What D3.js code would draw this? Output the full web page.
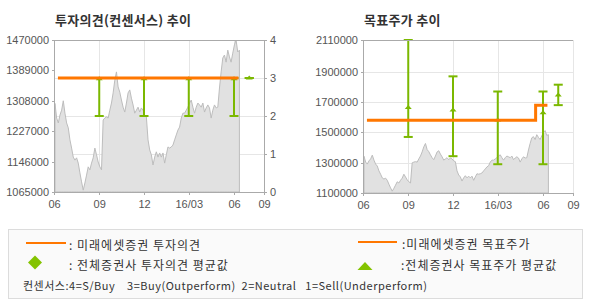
<!DOCTYPE html>
<html>
<head>
<meta charset="utf-8">
<script src="https://cdn.jsdelivr.net/npm/d3@7"></script>
<style>
  body { margin: 0; background: #fff; }
  svg { display: block; }
  .tick text { font-family: "Liberation Sans", Arial, sans-serif; font-size: 11px; fill: #555; }
  .axis path, .axis line { stroke: #aaa; shape-rendering: crispEdges; }
  .grid line { stroke: #e6e6e6; shape-rendering: crispEdges; }
  .grid path { display: none; }
  .kr { font-family: "Noto Sans CJK KR", sans-serif; fill: #333; }
</style>
</head>
<body>
<div id="chart"></div>
<script>
// price series (roughly every 3-4 days, 2015-06-03 .. 2016-06-12)
const priceStart = "2015-06-03"
const priceEnd = "2016-06-12"
const prices = [
  1301000,1262000,1249000,1270000,1283000,1308000,1275000,1249000,1236000,1204000,
  1182000,1158000,1150000,1156000,1142000,1116000,1092000,1070000,1089000,1110000,
  1132000,1124000,1142000,1156000,1182000,1164000,1145000,1132000,1124000,1257000,
  1262000,1265000,1262000,1283000,1302000,1329000,1363000,1385000,1345000,
  1331000,1310000,1291000,1278000,1302000,1329000,1337000,1315000,1297000,1275000,
  1283000,1291000,1278000,1289000,1283000,1270000,1265000,1204000,1177000,1164000,
  1137000,1158000,1172000,1158000,1169000,1158000,1169000,1142000,1164000,1185000,
  1182000,1185000,1190000,1204000,1217000,1230000,1238000,1262000,1275000,
  1275000,1283000,1291000,1302000,1310000,1291000,1275000,1291000,1302000,1297000,
  1291000,1302000,1278000,1289000,1297000,1289000,1262000,1283000,1297000,1289000,
  1291000,1342000,1385000,1422000,1430000,1411000,1443000,1425000,1411000,1435000,
  1457000,1470000,1438000,1443000
]

// 미래에셋증권 investment opinion and target price (step lines)
const opinionDates = ["2015-06-09", "2016-06-10"]
const opinionValues = [3, 3]
const targetDates = ["2015-06-09", "2016-05-17", "2016-06-10"]
const targetValues = [1580000, 1680000, 1680000]

// consensus (all brokers): range and average
const consDates = ["2015-09-01", "2015-12-01", "2016-03-01", "2016-06-01", "2016-07-02"]
const opinionHigh = [3, 3, 3, 3, 3]
const opinionLow = [2, 2, 2, 2, 3]
const opinionMean = [2.98, 2.98, 2.98, 2.98, 3]
const targetHigh = [2110000, 1870000, 1770000, 1770000, 1815000]
const targetLow = [1470000, 1343000, 1290000, 1290000, 1680000]
const targetMean = [1665000, 1648000, 1582000, 1630000, 1747000]

// axes
const xTickDates = ["2015-06-01", "2015-09-01", "2015-12-01", "2016-03-01", "2016-06-01", "2016-08-01"]
const xTickLabels = ["06", "09", "12", "16/03", "06", "09"]
const priceTicks = [1065000, 1146000, 1227000, 1308000, 1389000, 1470000]
const opinionTicks = [0, 1, 2, 3, 4]
const targetTicks = [1100000, 1300000, 1500000, 1700000, 1900000, 2110000]

const parse = d3.timeParse("%Y-%m-%d")
const orange = "#ff7700"
const green = "#7bb800"

const svg = d3.select("#chart").append("svg")
  .attr("width", 590)
  .attr("height", 300)

const idxToDate = d3.scaleLinear()
  .domain([0, prices.length - 1])
  .range([parse(priceStart), parse(priceEnd)])
const priceData = prices.map((p, i) => ({date: new Date(idxToDate(i)), value: p}))

function drawChart(opts) {
  const {left, right, top, bottom} = opts
  const g = svg.append("g")

  const x = d3.scaleTime()
    .domain([parse(xTickDates[0]), parse(xTickDates[xTickDates.length - 1])])
    .range([left, right])
  const tickDates = xTickDates.map(parse)

  // vertical grid
  g.append("g").attr("class", "grid")
    .attr("transform", `translate(0,${bottom})`)
    .call(d3.axisBottom(x).tickValues(tickDates).tickSize(-(bottom - top)).tickFormat(""))

  // horizontal grid
  g.append("g").attr("class", "grid")
    .attr("transform", `translate(${left},0)`)
    .call(d3.axisLeft(opts.gridScale).tickValues(opts.gridTicks).tickSize(-(right - left)).tickFormat(""))

  // price area
  const area = d3.area()
    .x(d => x(d.date))
    .y0(bottom)
    .y1(d => opts.priceScale(d.value))
  g.append("path")
    .datum(priceData)
    .attr("d", area)
    .attr("fill", "#e1e1e1")
    .attr("stroke", "#bdbdbd")
    .attr("stroke-width", 1)

  // consensus range bars
  const bars = g.append("g").selectAll("g")
    .data(consDates.map((d, i) => ({date: parse(d), hi: opts.high[i], lo: opts.low[i], mean: opts.mean[i]})))
    .join("g")
  bars.append("line")
    .attr("x1", d => x(d.date)).attr("x2", d => x(d.date))
    .attr("y1", d => opts.barScale(d.hi)).attr("y2", d => opts.barScale(d.lo))
    .attr("stroke", green).attr("stroke-width", 2)
  bars.append("line")
    .attr("x1", d => x(d.date) - 4.5).attr("x2", d => x(d.date) + 4.5)
    .attr("y1", d => opts.barScale(d.hi)).attr("y2", d => opts.barScale(d.hi))
    .attr("stroke", green).attr("stroke-width", 2)
  bars.append("line")
    .attr("x1", d => x(d.date) - 4.5).attr("x2", d => x(d.date) + 4.5)
    .attr("y1", d => opts.barScale(d.lo)).attr("y2", d => opts.barScale(d.lo))
    .attr("stroke", green).attr("stroke-width", 2)
  bars.append("path")
    .attr("d", d => {
      const cx = x(d.date), cy = opts.barScale(d.mean)
      return `M${cx - 3.5},${cy + 1.5}L${cx + 3.5},${cy + 1.5}L${cx},${cy - 2.5}Z`
    })
    .attr("fill", green)

  // broker step line
  const stepLine = d3.line()
    .x(d => x(d.date))
    .y(d => opts.barScale(d.value))
    .curve(d3.curveStepAfter)
  g.append("path")
    .datum(opts.stepDates.map((d, i) => ({date: parse(d), value: opts.stepValues[i]})))
    .attr("d", stepLine)
    .attr("fill", "none")
    .attr("stroke", orange)
    .attr("stroke-width", 3)

  // top border
  g.append("line")
    .attr("x1", left).attr("x2", right)
    .attr("y1", top + 0.5).attr("y2", top + 0.5)
    .attr("stroke", "#aaa")

  // axes
  g.append("g").attr("class", "axis")
    .attr("transform", `translate(0,${bottom})`)
    .call(d3.axisBottom(x).tickValues(tickDates).tickFormat((d, i) => xTickLabels[i])
      .tickSize(3).tickPadding(5).tickSizeOuter(0))
  g.append("g").attr("class", "axis")
    .attr("transform", `translate(${left},0)`)
    .call(d3.axisLeft(opts.leftScale).tickValues(opts.leftTicks).tickFormat(d3.format("d")).tickSize(2).tickSizeOuter(0))
  if (opts.rightScale) {
    g.append("g").attr("class", "axis")
      .attr("transform", `translate(${right},0)`)
      .call(d3.axisRight(opts.rightScale).tickValues(opinionTicks).tickFormat(d3.format("d"))
        .tickSize(3).tickSizeOuter(0))
  }

  // title
  svg.append("text")
    .attr("class", "kr")
    .attr("x", left + 1)
    .attr("y", 25)
    .attr("font-size", 13)
    .attr("letter-spacing", 0.3)
    .attr("font-weight", "bold")
    .text(opts.title)
}

// left: 투자의견
const yPriceL = d3.scaleLinear().domain([1065000, 1470000]).range([192, 40])
const yOpinion = d3.scaleLinear().domain([0, 4]).range([192, 40])
drawChart({
  left: 54, right: 264, top: 40, bottom: 192,
  title: "투자의견(컨센서스) 추이",
  priceScale: yPriceL,
  leftScale: yPriceL, leftTicks: priceTicks,
  rightScale: yOpinion,
  gridScale: yOpinion, gridTicks: [1, 2, 3],
  barScale: yOpinion,
  high: opinionHigh, low: opinionLow, mean: opinionMean,
  stepDates: opinionDates, stepValues: opinionValues
})

// right: 목표주가
const yTarget = d3.scaleLinear().domain([1100000, 2110000]).range([193, 40])
const yPriceR = d3.scaleLinear().domain([1058000, 2068000]).range([193, 40])
drawChart({
  left: 363, right: 573, top: 40, bottom: 193,
  title: "목표주가 추이",
  priceScale: yPriceR,
  leftScale: yTarget, leftTicks: targetTicks,
  gridScale: yTarget, gridTicks: [1300000, 1500000, 1700000, 1900000],
  barScale: yTarget,
  high: targetHigh, low: targetLow, mean: targetMean,
  stepDates: targetDates, stepValues: targetValues
})

// legend
const lg = svg.append("g")
lg.append("rect")
  .attr("x", 8.5).attr("y", 229.5)
  .attr("width", 574).attr("height", 69)
  .attr("fill", "#fafafa").attr("stroke", "#dcdcdc")

lg.append("line").attr("x1", 26).attr("x2", 66).attr("y1", 243).attr("y2", 243)
  .attr("stroke", orange).attr("stroke-width", 2)
lg.append("line").attr("x1", 358).attr("x2", 397).attr("y1", 242).attr("y2", 242)
  .attr("stroke", orange).attr("stroke-width", 2)
lg.append("path").attr("d", "M35,255.5L42,262.5L35,269.5L28,262.5Z").attr("fill", "#84c300")
lg.append("path").attr("d", "M357.5,270L372.5,270L365,262Z").attr("fill", "#84c300")

const legendTexts = [
  {x: 69, y: 244, t: ": 미래에셋증권 투자의견"},
  {x: 402, y: 243, t: ":미래에셋증권 목표주가"},
  {x: 69, y: 264, t: ": 전체증권사 투자의견 평균값"},
  {x: 401, y: 264, t: ":전체증권사 목표주가 평균값"}
]
lg.selectAll("text.lt").data(legendTexts).join("text")
  .attr("class", "kr lt")
  .attr("x", d => d.x).attr("y", d => d.y)
  .attr("dominant-baseline", "central")
  .attr("font-size", 12)
  .attr("letter-spacing", 1)
  .text(d => d.t)
lg.append("text")
  .attr("class", "kr")
  .attr("x", 23).attr("y", 285)
  .attr("dominant-baseline", "central")
  .attr("font-size", 11)
  .attr("letter-spacing", 0.5)
  .style("white-space", "pre")
  .text("컨센서스:4=S/Buy    3=Buy(Outperform)  2=Neutral   1=Sell(Underperform)")
</script>
</body>
</html>
